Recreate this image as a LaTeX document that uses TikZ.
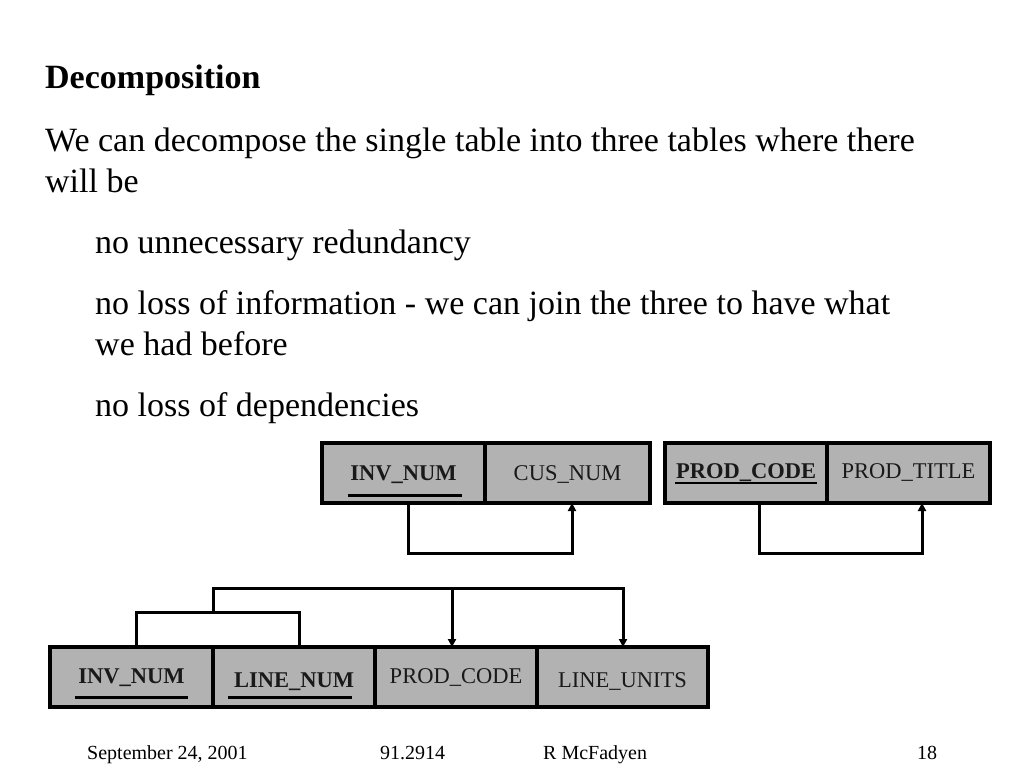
\documentclass[tikz,border=0pt]{standalone}
\usepackage{fontspec}
\setmainfont{Liberation Serif}
\usetikzlibrary{arrows.meta}
\definecolor{cellgray}{RGB}{178,178,178}
\begin{document}
\begin{tikzpicture}[x=1pt,y=-1pt,
  cell/.style={draw=black, line width=3.5pt, fill=cellgray, minimum height=60pt, inner sep=0pt, outer sep=0pt},
  celltext/.style={anchor=base, inner sep=0pt, text=black!90, font=\fontsize{22.5}{27}\selectfont},
  keytext/.style={celltext, font=\fontsize{22.5}{27}\selectfont\bfseries},
  bodytext/.style={anchor=base west, inner sep=0pt, font=\fontsize{34}{41}\selectfont},
  foot/.style={anchor=base west, inner sep=0pt, font=\fontsize{20}{24}\selectfont},
  uline/.style={line width=3pt},
  link/.style={line width=3pt},
  conn/.style={line width=3pt, -{Triangle[length=8pt,width=8pt]}}]
\useasboundingbox[fill=white] (0,0) rectangle (1024,768);

% body text
\node[bodytext, font=\fontsize{34}{41}\selectfont\bfseries] (title) at (45,88) {Decomposition};
\node[bodytext] (l1) at (45,151) {We can decompose the single table into three tables where there};
\node[bodytext] (l2) at (45,192) {will be};
\node[bodytext] (l3) at (95,253) {no unnecessary redundancy};
\node[bodytext] (l4) at (95,314) {no loss of information - we can join the three to have what};
\node[bodytext] (l5) at (95,355) {we had before};
\node[bodytext] (l6) at (95,416) {no loss of dependencies};

% table 1
\node[cell, minimum width=163pt] (a1) at (403.5,473) {};
\node[cell, minimum width=165pt] (a2) at (567.5,473) {};
\node[keytext] (ta1) at ([yshift=-7pt]a1.center) {INV\_NUM};
\node[celltext] (ta2) at ([yshift=-7pt]a2.center) {CUS\_NUM};
\draw[uline] ([xshift=-56pt,yshift=-22pt]a1.center) -- ([xshift=58pt,yshift=-22pt]a1.center);
\draw[conn] ([xshift=4.5pt]a1.south) -- ++(0,50) -| ([xshift=4.5pt]a2.south);

% table 2
\node[cell, minimum width=162pt] (b1) at (746,473) {};
\node[cell, minimum width=163pt] (b2) at (908.5,473) {};
\node[keytext] (tb1) at ([yshift=-5pt]b1.center) {PROD\_CODE};
\node[celltext] (tb2) at ([yshift=-5pt]b2.center) {PROD\_TITLE};
\draw[line width=2pt] ([xshift=-71pt,yshift=-10pt]b1.center) -- ([xshift=71pt,yshift=-10pt]b1.center);
\draw[conn] ([xshift=13pt]b1.south) -- ++(0,50) -| ([xshift=13.5pt]b2.south);

% table 3
\node[cell, minimum width=163pt] (c1) at (131.5,677) {};
\node[cell, minimum width=162pt] (c2) at (294,677) {};
\node[cell, minimum width=162pt] (c3) at (456,677) {};
\node[cell, minimum width=171pt] (c4) at (622.5,677) {};
\node[keytext] (tc1) at ([yshift=-6pt]c1.center) {INV\_NUM};
\node[keytext] (tc2) at ([yshift=-10pt]c2.center) {LINE\_NUM};
\node[celltext] (tc3) at ([yshift=-6pt]c3.center) {PROD\_CODE};
\node[celltext] (tc4) at ([yshift=-10pt]c4.center) {LINE\_UNITS};
\draw[uline] ([xshift=-56.5pt,yshift=-20pt]c1.center) -- ([xshift=56.5pt,yshift=-20pt]c1.center);
\draw[uline] ([xshift=-66pt,yshift=-20pt]c2.center) -- ([xshift=58pt,yshift=-20pt]c2.center);

\draw[link] ([xshift=4.5pt]c1.north) -- ++(0,-35) coordinate (k1) -| ([xshift=5pt]c2.north);
\coordinate (km) at (c1.north east |- k1);
\draw[conn] (km) -- ++(0,-24) coordinate (k2) -| ([xshift=0.5pt]c4.north);
\coordinate (kb) at ([xshift=-4pt]c3.north |- k2);
\draw[conn] (kb) -- ([xshift=-4pt]c3.north);

% footer
\node[foot] (f1) at (87,759) {September 24, 2001};
\node[foot] (f2) at (380,759) {91.2914};
\node[foot] (f3) at (543,759) {R McFadyen};
\node[foot] (f4) at (917,759) {18};
\end{tikzpicture}
\end{document}
